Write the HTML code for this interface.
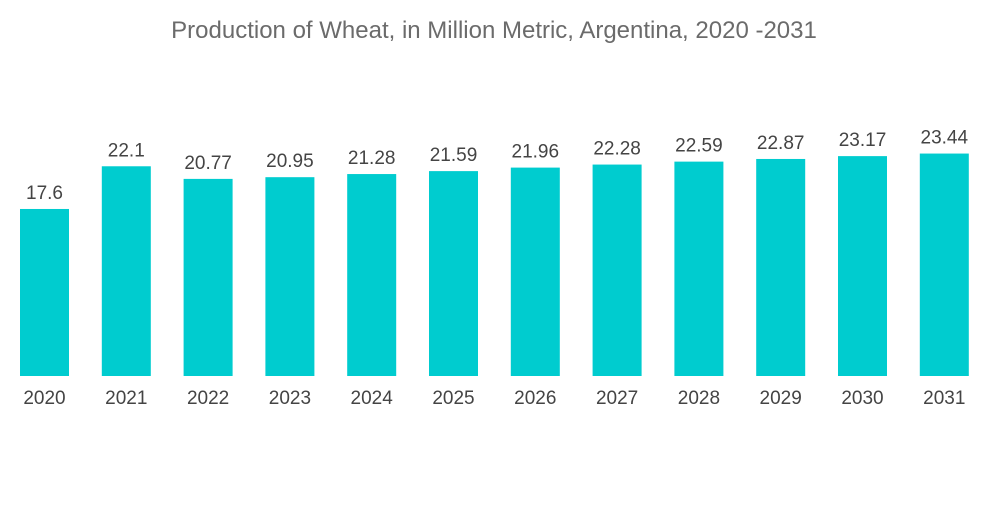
<!DOCTYPE html>
<html><head><meta charset="utf-8"><style>
body{margin:0;background:#fff;width:1000px;height:504px;overflow:hidden;font-family:"Liberation Sans",sans-serif}
</style></head><body>
<svg width="1000" height="504">
<text x="494" y="38" text-anchor="middle" font-size="24" fill="#6b6b6b">Production of Wheat, in Million Metric, Argentina, 2020 -2031</text>
<g id="bars"></g>
</svg>
<script>
const categories=["2020","2021","2022","2023","2024","2025","2026","2027","2028","2029","2030","2031"];
const values=[17.6,22.1,20.77,20.95,21.28,21.59,21.96,22.28,22.59,22.87,23.17,23.44];
const labels=["17.6","22.1","20.77","20.95","21.28","21.59","21.96","22.28","22.59","22.87","23.17","23.44"];
const base=376, scale=9.49, x0=20, step=81.8, bw=49;
const yPos=v=>base-v*scale;
const xPos=i=>x0+i*step;
const g=document.getElementById('bars');
const ns='http://www.w3.org/2000/svg';
values.forEach((v,i)=>{
  const r=document.createElementNS(ns,'rect');
  r.setAttribute('x',xPos(i));r.setAttribute('y',yPos(v));
  r.setAttribute('width',bw);r.setAttribute('height',base-yPos(v));
  r.setAttribute('fill','#00cccf');
  
  
  g.appendChild(r);
  const t=document.createElementNS(ns,'text');
  t.setAttribute('x',xPos(i)+bw/2);t.setAttribute('y',yPos(v)-10);
  t.setAttribute('text-anchor','middle');t.setAttribute('font-size','19');t.setAttribute('fill','#444');
  t.textContent=labels[i];
  
  
  g.appendChild(t);
  const c=document.createElementNS(ns,'text');
  c.setAttribute('x',xPos(i)+bw/2);c.setAttribute('y',404);
  c.setAttribute('text-anchor','middle');c.setAttribute('font-size','19');c.setAttribute('fill','#444');
  c.textContent=categories[i];
  
  
  g.appendChild(c);
});
</script>
</body></html>
